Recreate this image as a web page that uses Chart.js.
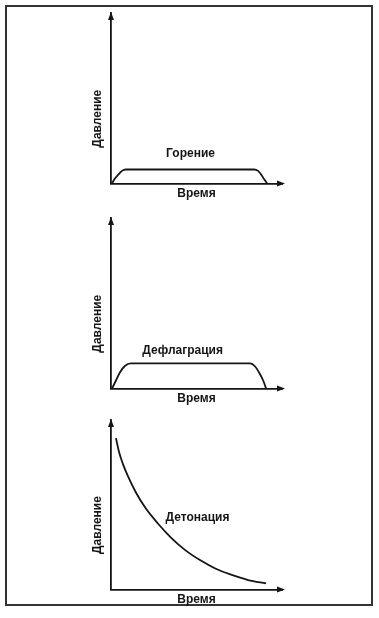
<!DOCTYPE html>
<html>
<head>
<meta charset="utf-8">
<script src="https://cdn.jsdelivr.net/npm/chart.js@4"></script>
<style>
    html, body { margin: 0; padding: 0; background: #fff; }
    body { width: 379px; height: 618px; position: relative; overflow: hidden; }
    .frame {
        position: absolute; left: 5px; top: 5px; width: 368px; height: 601px;
        box-sizing: border-box; border: 2px solid #333;
    }
    canvas { position: absolute; left: 0; }
</style>
</head>
<body>
<div class="frame"></div>
<canvas id="burnChart" style="top:0px"></canvas>
<canvas id="deflChart" style="top:200px"></canvas>
<canvas id="detChart" style="top:403px"></canvas>
<script>
// Data (arbitrary units, 0..100 on both axes)
const curveNames = ['Горение', 'Дефлаграция', 'Детонация'];
const xLabel = 'Время';
const yLabel = 'Давление';

const burnX = [0.6, 2.3, 4.7, 6.4, 8.7, 83.7, 86, 87.8, 89.5, 91.3];
const burnY = [0, 2.9, 5.6, 7.4, 8.2, 8.2, 7.4, 5.3, 2.6, 0];

const deflX = [0.6, 2.9, 5.2, 8.1, 11.6, 81.4, 84.3, 86.6, 89, 90.7];
const deflY = [0, 4.7, 9.4, 13.2, 14.7, 14.7, 12.9, 9.4, 4.7, 0];

const detX = [2.9, 4.7, 7.0, 9.9, 14.5, 20.3, 27.3, 34.9, 43.6, 52.3, 61.0, 69.8, 80.2, 90.7];
const detY = [89.3, 81.1, 74.0, 66.9, 57.4, 47.9, 39.1, 30.8, 23.1, 17.2, 12.4, 8.9, 5.6, 3.6];

const ink = '#151515';
const labelFont = { family: '"Liberation Sans", Arial, sans-serif', size: 12, weight: 'bold' };

// arrows on the axes + y label + curve name
const axisDecor = {
    id: 'axisDecor',
    afterDraw(chart, args, opts) {
        const ctx = chart.ctx;
        const a = chart.chartArea;
        ctx.save();
        ctx.fillStyle = ink;
        // y arrow
        ctx.beginPath();
        ctx.moveTo(a.left, a.top - 1);
        ctx.lineTo(a.left - 3, a.top + 7);
        ctx.lineTo(a.left + 3, a.top + 7);
        ctx.closePath();
        ctx.fill();
        // x arrow
        ctx.beginPath();
        ctx.moveTo(a.right + 3, a.bottom);
        ctx.lineTo(a.right - 5, a.bottom - 3);
        ctx.lineTo(a.right - 5, a.bottom + 3);
        ctx.closePath();
        ctx.fill();

        ctx.font = 'bold 12px "Liberation Sans", Arial, sans-serif';
        ctx.textAlign = 'center';
        ctx.textBaseline = 'middle';
        // y label, rotated
        ctx.save();
        ctx.translate(a.left - 13, a.bottom - (a.bottom - a.top) * 0.38);
        ctx.rotate(-Math.PI / 2);
        ctx.fillText(yLabel, 0, 0);
        ctx.restore();
        // curve name
        const xs = chart.scales.x, ys = chart.scales.y;
        ctx.fillText(opts.text, xs.getPixelForValue(opts.x), ys.getPixelForValue(opts.y));
        ctx.restore();
    }
};

function makeChart(id, canvasTop, box, xs, ys, name, namePos) {
    const canvasH = 215;
    const titleH = labelFont.size * 1.2 + 3 + 4;
    const el = document.getElementById(id);
    el.width = 379;
    el.height = canvasH;
    el.style.width = '379px';
    el.style.height = canvasH + 'px';
    return new Chart(el, {
        type: 'line',
        data: {
            datasets: [{
                data: xs.map((x, i) => ({ x: x, y: ys[i] })),
                borderColor: ink,
                borderWidth: 1.8,
                pointRadius: 0,
                cubicInterpolationMode: 'monotone',
                fill: false
            }]
        },
        options: {
            responsive: false,
            animation: false,
            layout: {
                padding: {
                    left: box.left,
                    right: 379 - box.right,
                    top: box.top - canvasTop,
                    bottom: canvasH - (box.bottom - canvasTop) - titleH
                }
            },
            scales: {
                x: {
                    type: 'linear', min: 0, max: 100,
                    grid: { display: false, drawTicks: false, tickLength: 0 },
                    ticks: { display: false },
                    border: { display: true, color: ink, width: 1.8 },
                    title: { display: true, text: xLabel, color: ink, font: labelFont, padding: { top: 3, bottom: 4 } }
                },
                y: {
                    type: 'linear', min: 0, max: 100,
                    grid: { display: false, drawTicks: false, tickLength: 0 },
                    ticks: { display: false },
                    border: { display: true, color: ink, width: 1.8 }
                }
            },
            plugins: {
                legend: { display: false },
                tooltip: { enabled: false },
                axisDecor: { text: name, x: namePos[0], y: namePos[1] }
            }
        },
        plugins: [axisDecor]
    });
}

makeChart('burnChart', 0, { left: 111, right: 282, top: 13, bottom: 183.5 }, burnX, burnY, curveNames[0], [46.5, 17.6]);
makeChart('deflChart', 200, { left: 111, right: 282, top: 218, bottom: 388.5 }, deflX, deflY, curveNames[1], [41.9, 22.4]);
makeChart('detChart', 403, { left: 111, right: 282, top: 420, bottom: 589.5 }, detX, detY, curveNames[2], [50.6, 42.6]);
</script>
</body>
</html>
